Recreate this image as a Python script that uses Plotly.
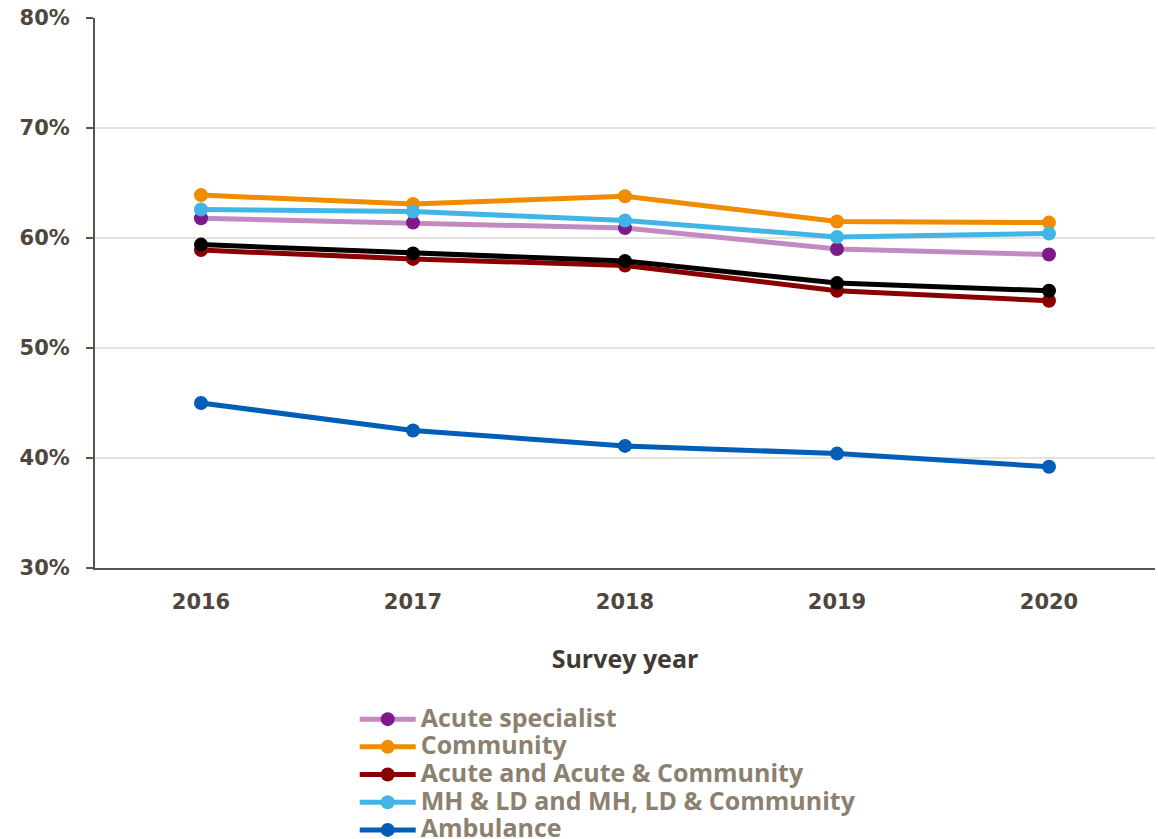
import plotly.graph_objects as go

# Survey results by trust type, 2016-2020 (share of staff, %)
years = ["2016", "2017", "2018", "2019", "2020"]

acute_specialist = [61.8, 61.4, 60.9, 59.0, 58.5]
community = [63.9, 63.1, 63.8, 61.5, 61.4]
acute_and_community = [58.9, 58.1, 57.5, 55.2, 54.3]
mh_ld_community = [62.6, 62.4, 61.6, 60.1, 60.4]
ambulance = [45.0, 42.5, 41.1, 40.4, 39.2]
all_trusts = [59.4, 58.6, 57.9, 55.9, 55.2]

y_ticks = [30, 40, 50, 60, 70, 80]
y_tick_labels = [f"{t}%" for t in y_ticks]

series = [
    # name, values, line colour, marker colour, in legend
    ("Acute specialist", acute_specialist, "#c28ac3", "#7e1a88", True),
    ("Community", community, "#ef8c00", "#ef8c00", True),
    ("MH & LD and MH, LD & Community", mh_ld_community, "#41b6e6", "#41b6e6", True),
    ("Acute and Acute & Community", acute_and_community, "#8a0000", "#8a0000", True),
    ("All trusts", all_trusts, "#000000", "#000000", False),
    ("Ambulance", ambulance, "#005eb8", "#005eb8", True),
]
legend_order = {
    "Acute specialist": 1,
    "Community": 2,
    "Acute and Acute & Community": 3,
    "MH & LD and MH, LD & Community": 4,
    "Ambulance": 5,
    "All trusts": 6,
}

fig = go.Figure()
for name, vals, lc, mc, show in series:
    fig.add_trace(go.Scatter(
        x=years, y=vals, mode="lines+markers",
        # larger text inside a compact legend row
        name=f'<span style="font-size:25px">{name}</span>',
        line=dict(color=lc, width=5),
        marker=dict(color=mc, size=14),
        showlegend=show,
        legendrank=legend_order[name],
    ))

tick_font = dict(family="DejaVu Sans", size=21, color="#4f473d", weight="bold")

fig.update_layout(
    width=1158, height=839,
    margin=dict(l=95, r=3, t=18, b=271, autoexpand=False),
    paper_bgcolor="white", plot_bgcolor="white",
    xaxis=dict(
        type="category", range=[-0.5, 4.5],
        showline=True, linecolor="#5b544a", linewidth=2,
        showgrid=False, ticks="",
        tickfont=tick_font, ticklabelstandoff=14,
        title=dict(text="Survey year",
                   font=dict(family="Open Sans", size=25, color="#3f3a33",
                             weight="bold"),
                   standoff=37),
    ),
    yaxis=dict(
        range=[30, 80], tickvals=y_ticks, ticktext=y_tick_labels,
        showline=True, linecolor="#5b544a", linewidth=2,
        ticks="outside", ticklen=7, tickcolor="#5b544a", tickwidth=1.5,
        ticklabelstandoff=12,
        showgrid=True, gridcolor="#e6e3df", gridwidth=1.5,
        tickfont=tick_font, zeroline=False,
    ),
    legend=dict(
        x=0.245, xanchor="left", y=-0.2405, yanchor="top",
        font=dict(family="Open Sans", size=19, color="#8c8070", weight="bold"),
        tracegroupgap=0, itemwidth=56,
        bgcolor="rgba(0,0,0,0)",
    ),
)

fig.write_html("out.html")
